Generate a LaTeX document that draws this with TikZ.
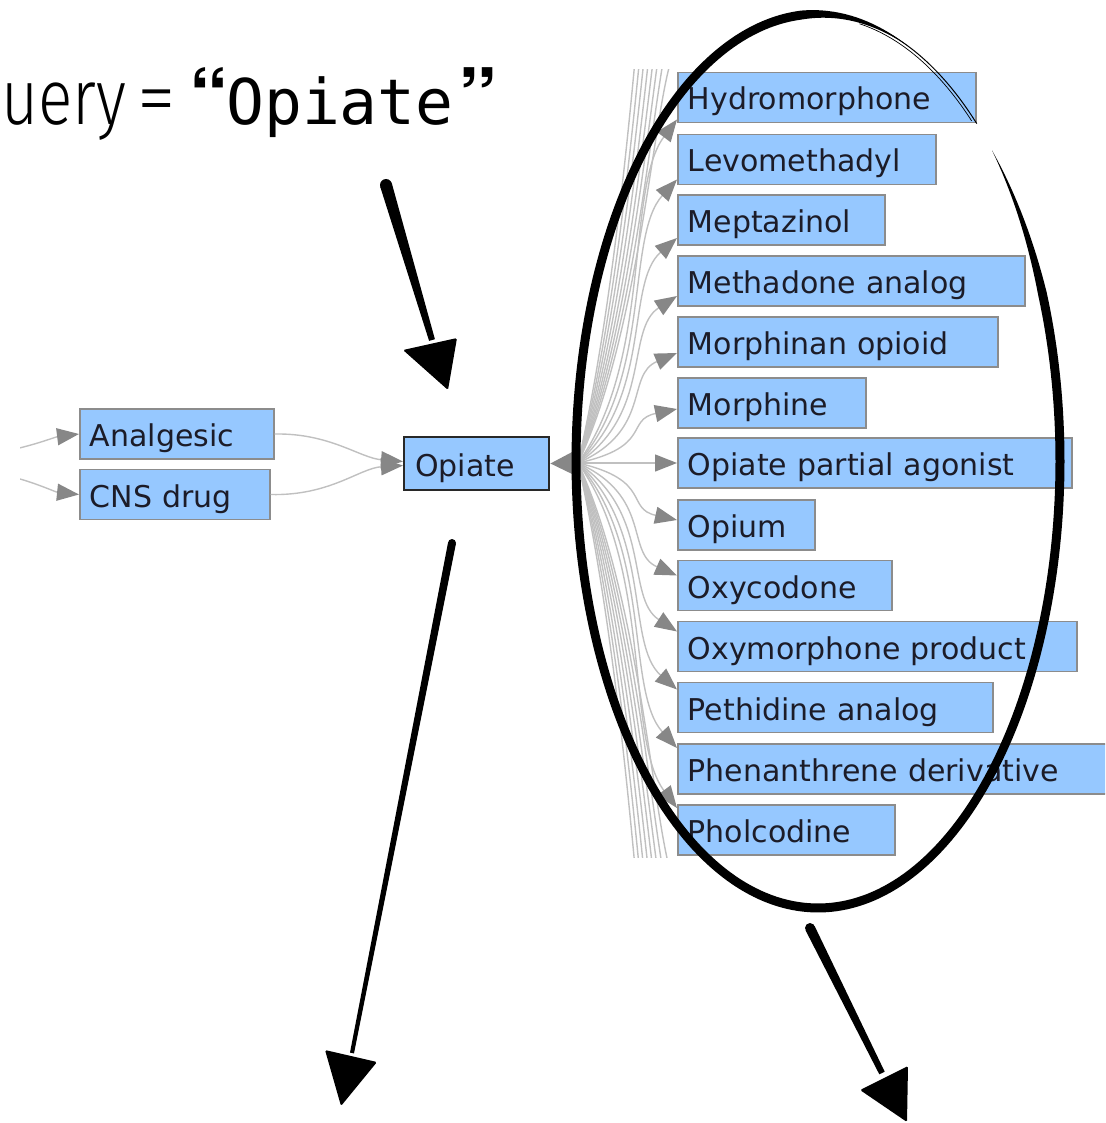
\documentclass[tikz,border=0pt]{standalone}
\usepackage{fontspec}
\usepackage{graphicx}
\setmainfont{DejaVu Sans}
\IfFontExistsTF{Fira Sans Light}
  {\newfontfamily\queryfont{Fira Sans Light}}
  {\newfontfamily\queryfont{TeX Gyre Heros}}
\newfontfamily\quotefont{TeX Gyre Heros}
\newfontfamily\codefont{DejaVu Sans Mono}
\usetikzlibrary{arrows.meta,calc}

\definecolor{boxfill}{RGB}{150,200,255}
\definecolor{boxline}{RGB}{140,140,140}
\definecolor{edgeline}{RGB}{192,192,192}
\definecolor{tipgray}{RGB}{135,135,135}
\definecolor{labelink}{RGB}{28,28,40}

\begin{document}
\begin{tikzpicture}[x=1pt,y=-1pt,
  declare function={w(\a)=9*min(1,(\a-316)/22)*min(1,(652-\a)/26);},
  term/.style={draw=boxline, line width=1.6pt, fill=boxfill, rectangle,
    anchor=west, minimum height=50pt, inner xsep=9pt, inner ysep=0pt,
    text height=27pt, text depth=2pt, align=left,
    font=\fontsize{30}{30}\selectfont, text=labelink},
  isa/.style={draw=edgeline, line width=1.4pt,
    -{Triangle[length=22pt,width=17pt,color=tipgray]}},
  inkmark/.style={fill=black},
  querytext/.style={anchor=base west, inner sep=0pt},
]
\useasboundingbox (0,0) rectangle (1105,1123);

% ---------------- the ontology graph ----------------
\begin{scope}
\clip (20,70) rectangle (1105,857);

% parents and the query term
\node[term, minimum width=194pt, text width=174pt] (analgesic) at (79,434) {Analgesic};
\node[term, minimum width=190pt, text width=170pt] (cns) at (79,494.5) {CNS drug};
\node[term, draw={rgb,255:red,40;green,40;blue,40}, line width=2.4pt,
      minimum width=145pt, minimum height=53pt, text width=123pt,
      inner xsep=11pt] (opiate) at (403,463.5) {Opiate};

% children
\node[term, minimum width=298pt, text width=278pt] (h1)  at (677,97.5)  {Hydromorphone};
\node[term, minimum width=258pt, text width=238pt] (h2)  at (677,159.5) {Levomethadyl};
\node[term, minimum width=207pt, text width=187pt] (h3)  at (677,220)   {Meptazinol};
\node[term, minimum width=347pt, text width=327pt] (h4)  at (677,281)   {Methadone analog};
\node[term, minimum width=320pt, text width=300pt] (h5)  at (677,342)   {Morphinan opioid};
\node[term, minimum width=188pt, text width=168pt] (h6)  at (677,403)   {Morphine};
\node[term, minimum width=394pt, text width=374pt] (h7)  at (677,463)   {Opiate partial agonist};
\node[term, minimum width=137pt, text width=117pt] (h8)  at (677,525)   {Opium};
\node[term, minimum width=214pt, text width=194pt] (h9)  at (677,585.5) {Oxycodone};
\node[term, minimum width=399pt, text width=379pt] (h10) at (677,646.5) {Oxymorphone product};
\node[term, minimum width=315pt, text width=295pt] (h11) at (677,707.5) {Pethidine analog};
\node[term, minimum width=450pt, text width=430pt] (h12) at (677,769)   {Phenanthrene derivative};
\node[term, minimum width=217pt, text width=197pt] (h13) at (677,830)   {Pholcodine};

% incoming edges
\coordinate (srcA) at (0,452);
\coordinate (srcC) at (0,474);
\draw[isa] (srcA) .. controls (30,447) and (55,437) .. (analgesic.west);
\draw[isa] (srcC) .. controls (30,480) and (55,492) .. (cns.west);
\draw[isa] (analgesic.east) .. controls (330,433) and (360,458) .. ($(opiate.west)+(0,-2)$);
\draw[isa] (cns.east) .. controls (330,496) and (360,468) .. ($(opiate.west)+(0,2)$);

% fan of edges out of the query term
\coordinate (fan) at (578,463);
\draw[draw=edgeline, line width=1.4pt,
  -{Triangle[length=28pt,width=28pt,color=tipgray]}] (fan) -- (opiate.east);

% children lying outside the visible part of the graph
\foreach \k/\y in {1/40,2/0,3/-45,4/-95,5/-155,6/-225,7/-305,8/-400}{
  \coordinate (up\k) at (677,\y);
  \draw[isa] (fan) .. controls ($(fan)+(60,{0.3*(\y-463)})$)
    and ($(up\k)+(-25,{-0.2*(\y-463)})$) .. (up\k);
}
\foreach \k/\y in {1/895,2/935,3/980,4/1030,5/1090,6/1160,7/1240,8/1330}{
  \coordinate (dn\k) at (677,\y);
  \draw[isa] (fan) .. controls ($(fan)+(60,{0.3*(\y-463)})$)
    and ($(dn\k)+(-25,{-0.2*(\y-463)})$) .. (dn\k);
}

% visible children
\foreach \n/\o in {h1/22,h2/20,h3/18,h4/15,h5/11,h6/6,h7/0,h8/-5,h9/-10,h10/-15,h11/-18,h12/-21,h13/-22}{
  \draw[isa] (fan) .. controls ($(fan)+(45,0)+0.3*($(\n.west)+(0,\o)-(fan)$)$)
    and ($(\n.west)+(0,\o)+(-32,0)-0.2*($(\n.west)+(0,\o)-(fan)$)$)
    .. ($(\n.west)+(0,\o)$);
}
\end{scope}

% ---------------- the query ----------------
\node[querytext, font=\queryfont\fontsize{78}{78}\selectfont]
  (qlabel) at (1,125) {\scalebox{0.82}[1]{uery}};
\node[querytext, font=\queryfont\fontsize{78}{78}\selectfont]
  (qeq) at (137,125) {=};
\node[querytext, font=\quotefont\bfseries\fontsize{78}{78}\selectfont]
  (qopen) at (189,125) {“};
\node[querytext, font=\codefont\fontsize{63}{63}\selectfont]
  (qterm) at (226,125) {Opiate};
\node[querytext, font=\quotefont\bfseries\fontsize{78}{78}\selectfont]
  (qclose) at (458,125) {”};

% ---------------- hand-drawn marks ----------------
% ring around the children
\fill[inkmark] plot[domain=316:652, samples=260, variable=\t]
    ({818+(242+0.5*w(\t))*cos(\t)}, {461+(447+0.5*w(\t))*sin(\t)})
  -- plot[domain=652:316, samples=260, variable=\t]
    ({818+(242-0.5*w(\t))*cos(\t)}, {461+(447-0.5*w(\t))*sin(\t)})
  -- cycle;
\draw[line width=1pt] plot[domain=275:311, samples=50, variable=\t]
    ({818+242*cos(\t)}, {461+447*sin(\t)});
\draw[line width=0.7pt] plot[domain=280:310, samples=50, variable=\t]
    ({818+239*cos(\t)}, {461+444*sin(\t)});

% arrow pointing at the query term
\fill[inkmark] (391.8,183.3) -- (434.9,339.2) -- (429.1,340.9) -- (380.2,186.7) -- cycle;
\fill[inkmark] (386,185) circle (6);
\fill[inkmark, rounded corners=1.5pt] (403,350) -- (457,338) -- (448,390) -- cycle;

% arrow leaving the query term
\fill[inkmark] (455.9,543.8) -- (354,1053.4) -- (350,1052.6) -- (448.1,542.2) -- cycle;
\fill[inkmark] (452,543) circle (4);
\fill[inkmark, rounded corners=1.5pt] (325,1050) -- (377,1062) -- (341,1106) -- cycle;

% arrow leaving the ring
\fill[inkmark] (814.5,925.8) -- (884.7,1071.7) -- (879.3,1074.3) -- (805.5,930.2) -- cycle;
\fill[inkmark] (810,928) circle (5);
\fill[inkmark, rounded corners=1.5pt] (860,1090) -- (908,1066) -- (907,1122) -- cycle;
\end{tikzpicture}
\end{document}
